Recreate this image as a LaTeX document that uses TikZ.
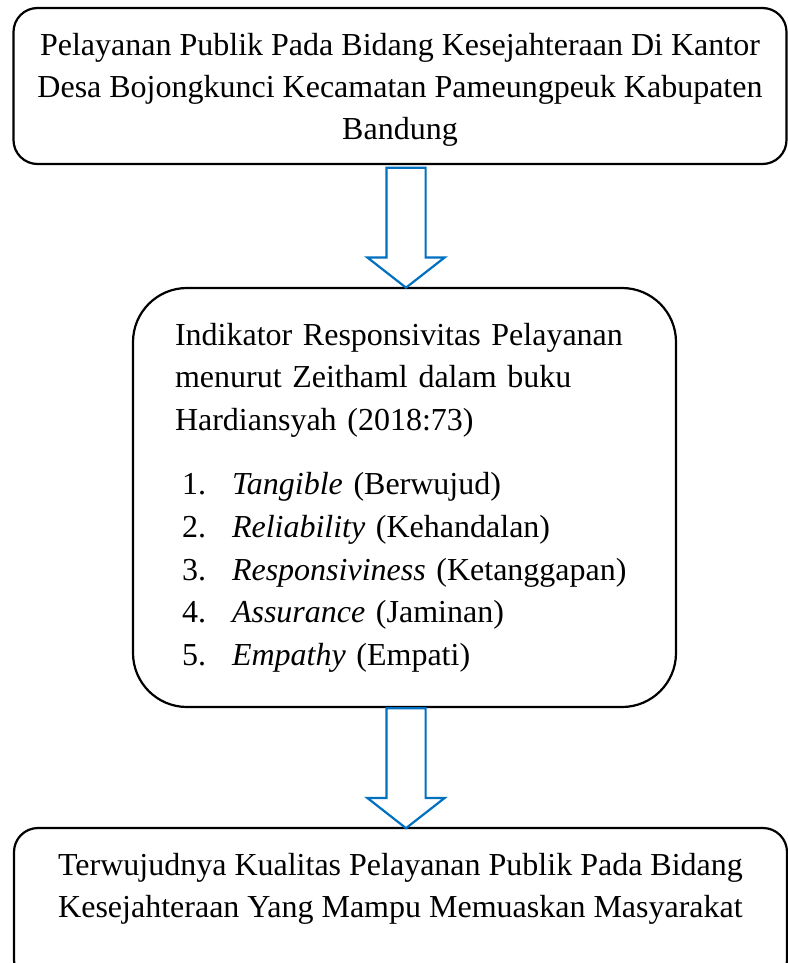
\documentclass[tikz,border=0pt]{standalone}
\usepackage{fontspec}
\setmainfont{Liberation Serif}
\usetikzlibrary{positioning,shapes.arrows}
\definecolor{arrowblue}{RGB}{0,112,192}

\begin{document}
\begin{tikzpicture}[
  x=0.5pt, y=-0.5pt,
  node distance=2pt,
  box/.style={rectangle, draw, line width=1.1pt, align=center, inner sep=0pt, font=\fontsize{16}{21}\selectfont},
  blockarrow/.style={single arrow, draw=arrowblue, line width=1.1pt, fill=white, shape border rotate=270, inner sep=9.25pt, minimum height=60pt, single arrow head extend=9.5pt, single arrow tip angle=104},
]
\useasboundingbox (0,0) rectangle (787,963);

\node[box, minimum width=386.5pt, minimum height=78pt, rounded corners=12pt, text depth=0pt] (pelayanan) at (400,86)
  {Pelayanan Publik Pada Bidang Kesejahteraan Di Kantor\\Desa Bojongkunci Kecamatan Pameungpeuk Kabupaten\\Bandung};
\node[box, minimum width=271.5pt, minimum height=209.5pt, rounded corners=27pt, align=left, text width=229.5pt, font=\fontsize{16}{21.3}\selectfont] (indikator) at (404.5,497.5)
  {Indikator Responsivitas Pelayanan\\menurut Zeithaml dalam buku\\Hardiansyah (2018:73)\\[11pt]
   \hspace*{3.5pt}\makebox[25pt][l]{1.}\textit{Tangible} (Berwujud)\\
   \hspace*{3.5pt}\makebox[25pt][l]{2.}\textit{Reliability} (Kehandalan)\\
   \hspace*{3.5pt}\makebox[25pt][l]{3.}\textit{Responsiviness} (Ketanggapan)\\
   \hspace*{3.5pt}\makebox[25pt][l]{4.}\textit{Assurance} (Jaminan)\\
   \hspace*{3.5pt}\makebox[25pt][l]{5.}\textit{Empathy} (Empati)};
\node[box, minimum width=386.5pt, minimum height=78pt, rounded corners=12pt] (kualitas) at (400.5,906)
  {Terwujudnya Kualitas Pelayanan Publik Pada Bidang\\Kesejahteraan Yang Mampu Memuaskan Masyarakat\\\mbox{}};

\node[blockarrow] (panahA) at (406,220) {};
\node[blockarrow] (panahB) at (406,760.5) {};
\end{tikzpicture}
\end{document}
